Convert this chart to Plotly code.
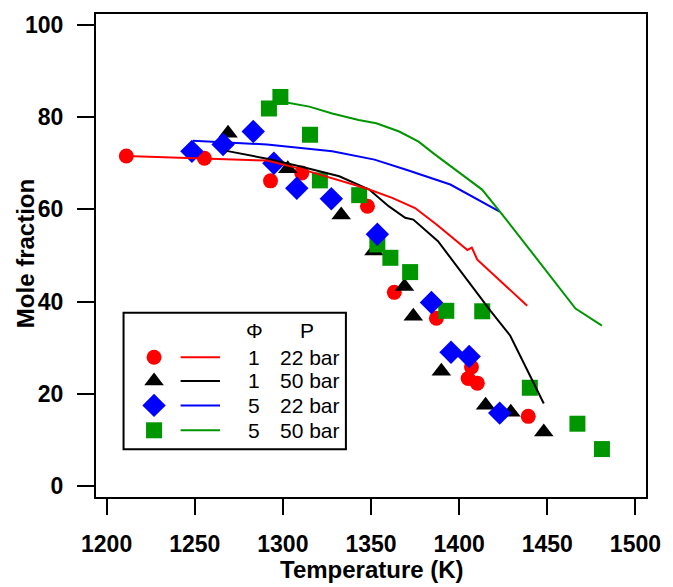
import plotly.graph_objects as go

# ---- data ----
red_T = [1211.2, 1255.5, 1293.0, 1310.7, 1348.0, 1363.2, 1387.1, 1405.1, 1407.0, 1410.3, 1439.2]
red_X = [71.6, 71.1, 66.2, 67.9, 60.7, 42.0, 36.4, 23.3, 25.8, 22.3, 15.1]

blk_T = [1268.9, 1302.8, 1333.1, 1351.7, 1369.0, 1374.0, 1389.9, 1415.0, 1429.3, 1448.0]
blk_X = [76.5, 68.8, 58.8, 51.0, 43.3, 36.8, 24.9, 17.5, 16.0, 11.7]

blu_T = [1248.4, 1266.1, 1283.2, 1294.9, 1307.9, 1327.5, 1353.6, 1384.3, 1395.4, 1405.7, 1423.0]
blu_X = [72.6, 74.1, 76.9, 70.0, 64.6, 62.3, 54.6, 39.8, 29.0, 28.1, 15.8]

grn_T = [1292.1, 1298.6, 1315.4, 1321.0, 1343.3, 1353.6, 1361.0, 1372.2, 1392.7, 1413.1, 1440.1, 1467.1, 1481.0]
grn_X = [81.9, 84.4, 76.2, 66.3, 63.1, 52.4, 49.5, 46.4, 38.0, 37.9, 21.3, 13.5, 8.0]

red_lT = [1211, 1260, 1291, 1310, 1328, 1347, 1362, 1375, 1387, 1404.7, 1407.2, 1410.3, 1438.6]
red_lX = [71.6, 71.0, 70.6, 68.8, 66.8, 64.6, 62.5, 60.3, 56.8, 51.2, 51.7, 49.1, 39.1]

blk_lT = [1268, 1291, 1310, 1332, 1349, 1360, 1369.4, 1374, 1388, 1404.7, 1417.8, 1429, 1448]
blk_lX = [72.7, 71.0, 69.3, 67.2, 64.3, 60.7, 58.2, 57.8, 53.1, 44.5, 38.0, 32.6, 17.9]

blu_lT = [1249, 1291, 1328, 1352, 1370, 1385, 1395, 1423]
blu_lX = [74.9, 74.1, 72.6, 70.8, 68.6, 66.7, 65.4, 59.5]

grn_lT = [1299, 1315, 1328, 1343, 1353, 1366, 1377, 1386, 1413, 1423, 1442, 1466, 1481]
grn_lX = [83.4, 82.3, 80.8, 79.4, 78.7, 76.9, 74.7, 72.0, 64.3, 59.6, 50.3, 38.5, 34.8]

phi_labels = ["1", "1", "5", "5"]
p_labels = ["22 bar", "50 bar", "22 bar", "50 bar"]
x_ticks = [1200, 1250, 1300, 1350, 1400, 1450, 1500]
y_ticks = [0, 20, 40, 60, 80, 100]

RED = "#ff0000"
BLK = "#000000"
BLU = "#0000ff"
GRN = "#009600"

styles = [
    (RED, "circle", 15),
    (BLK, "triangle-up", 17),
    (BLU, "diamond", 18),
    (GRN, "square", 16),
]

fig = go.Figure()

# markers (draw order: red, black, green, blue)
for T, X, (c, sym, sz) in [
    (red_T, red_X, styles[0]),
    (blk_T, blk_X, styles[1]),
    (grn_T, grn_X, styles[3]),
    (blu_T, blu_X, styles[2]),
]:
    fig.add_trace(go.Scatter(x=T, y=X, mode="markers",
                             marker=dict(color=c, symbol=sym, size=sz, line=dict(width=0)),
                             showlegend=False, cliponaxis=False))

# model lines
for T, X, c in [
    (blu_lT, blu_lX, BLU),
    (grn_lT, grn_lX, GRN),
    (blk_lT, blk_lX, BLK),
    (red_lT, red_lX, RED),
]:
    fig.add_trace(go.Scatter(x=T, y=X, mode="lines", line=dict(color=c, width=2),
                             showlegend=False))

# ---- legend built on a pixel-coordinate overlay axis ----
L, R, TOP, BOT = 96, 655, 12, 497
W, H = R - L, BOT - TOP
row_y = [356.7, 380.5, 405.0, 430.0]
mk_x = 155
for i, (c, sym, sz) in enumerate(styles):
    fig.add_trace(go.Scatter(x=[mk_x], y=[row_y[i]], xaxis="x2", yaxis="y2", mode="markers",
                             marker=dict(color=c, symbol=sym, size=sz, line=dict(width=0)),
                             showlegend=False, hoverinfo="skip"))
    fig.add_trace(go.Scatter(x=[182, 222], y=[row_y[i], row_y[i]], xaxis="x2", yaxis="y2",
                             mode="lines", line=dict(color=c, width=2),
                             showlegend=False, hoverinfo="skip"))

FAM = "Liberation Sans, Arial, sans-serif"
leg_font = dict(family=FAM, size=21, color="#000")
title_font = dict(family=FAM, size=24, color="#000")


def px(x):
    return (x - L) / W


def py(y):
    return (BOT - y) / H


annotations = [
    dict(x=257, y=330, xref="x2", yref="y2", text="Φ", showarrow=False, font=leg_font,
         xanchor="center", yanchor="middle"),
    dict(x=310, y=330, xref="x2", yref="y2", text="P", showarrow=False, font=leg_font,
         xanchor="center", yanchor="middle"),
    dict(x=px(377), y=py(570), xref="paper", yref="paper", text="<b>Temperature (K)</b>",
         showarrow=False, font=title_font, xanchor="center", yanchor="middle"),
    dict(x=px(24), y=py(253), xref="paper", yref="paper", text="<b>Mole fraction</b>",
         showarrow=False, font=title_font, xanchor="center", yanchor="middle", textangle=-90),
]
for i in range(4):
    annotations.append(dict(x=257, y=row_y[i], xref="x2", yref="y2", text=phi_labels[i],
                            showarrow=False, font=leg_font, xanchor="center", yanchor="middle"))
    annotations.append(dict(x=281, y=row_y[i], xref="x2", yref="y2", text=p_labels[i],
                            showarrow=False, font=leg_font, xanchor="left", yanchor="middle"))

shapes = [dict(type="rect", xref="x2", yref="y2", x0=124, x1=350, y0=312, y1=449,
               line=dict(color="#000", width=2), fillcolor="rgba(0,0,0,0)")]

bold = dict(family=FAM, size=23, color="#000")

fig.update_layout(
    width=673, height=587,
    margin=dict(l=L, r=673 - R, t=TOP, b=587 - BOT),
    paper_bgcolor="white", plot_bgcolor="white",
    showlegend=False,
    annotations=annotations,
    shapes=shapes,
    xaxis=dict(range=[1194, 1506], tickvals=x_ticks, ticktext=[f"<b>{v}</b>" for v in x_ticks],
               ticks="outside", ticklen=16, tickwidth=2, tickcolor="#000",
               showline=True, linewidth=2, linecolor="#000", mirror=True,
               showgrid=False, zeroline=False, tickfont=bold, ticklabelstandoff=9),
    yaxis=dict(range=[-2.4, 102.4], tickvals=y_ticks, ticktext=[f"<b>{v}</b>" for v in y_ticks],
               ticks="outside", ticklen=17, tickwidth=2, tickcolor="#000",
               showline=True, linewidth=2, linecolor="#000", mirror=True,
               showgrid=False, zeroline=False, tickfont=bold, ticklabelstandoff=9),
    xaxis2=dict(range=[L, R], overlaying="x", visible=False, anchor="y2"),
    yaxis2=dict(range=[BOT, TOP], overlaying="y", visible=False, anchor="x2"),
)

fig.write_html("out.html")
